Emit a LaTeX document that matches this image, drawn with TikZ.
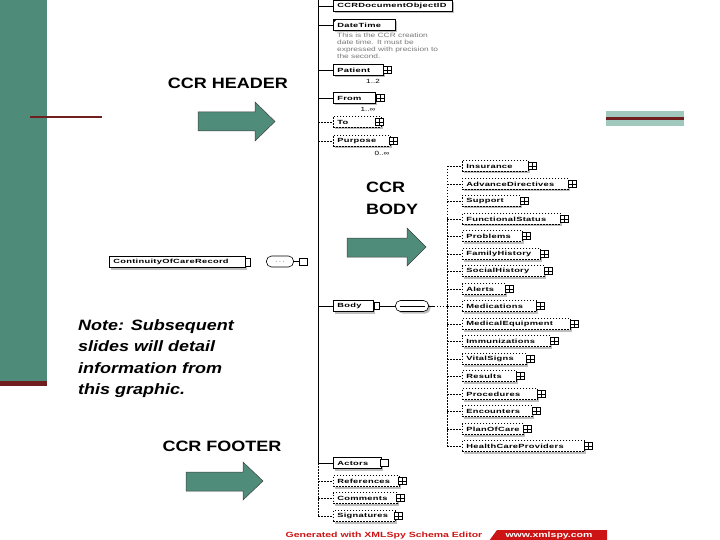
\documentclass[tikz,border=0pt]{standalone}
\usepackage{fontspec}
\setmainfont{Liberation Sans}
\newfontfamily\lblfont[FakeStretch=1.2]{Liberation Sans}
\newfontfamily\elfont[FakeStretch=1.55,LetterSpace=5]{Liberation Sans}
\newfontfamily\descfont[FakeStretch=1.35]{Liberation Sans}
\newfontfamily\banfont[FakeStretch=1.4]{Liberation Sans}
\definecolor{bargreen}{RGB}{78,139,121}
\definecolor{arrowgreen}{RGB}{80,140,122}
\definecolor{darkred}{RGB}{112,30,30}
\definecolor{lightteal}{RGB}{160,200,188}
\definecolor{shadowgray}{RGB}{190,190,190}
\definecolor{bannerred}{RGB}{204,20,20}
\definecolor{descgray}{RGB}{120,120,120}
\tikzset{
  elbox/.style={draw, line width=0.6pt, fill=white, inner sep=0pt, minimum height=11pt, anchor=west,
    font=\elfont\bfseries\fontsize{6}{7}\selectfont,
    preaction={fill=shadowgray, transform canvas={shift={(2pt,-2pt)}}}},
  optl/.style={dash pattern=on 1.5pt off 1.5pt},
  icon/.style={draw, fill=white, line width=0.5pt, minimum width=8pt, minimum height=7pt, inner sep=0pt,
    path picture={\draw[line width=0.5pt] (path picture bounding box.west) -- (path picture bounding box.east)
      (path picture bounding box.north) -- (path picture bounding box.south);}},
  iconplain/.style={draw, fill=white, line width=0.5pt, minimum width=8pt, minimum height=7pt, inner sep=0pt},
  occ/.style={font=\descfont\fontsize{6}{7}\selectfont, inner sep=0pt},
  biglbl/.style={font=\lblfont\bfseries\fontsize{15}{22}\selectfont, inner sep=0pt},
  blockarrow/.style={fill=arrowgreen, draw=black!75, line width=0.5pt},
  conn/.style={line width=0.6pt},
}
\newcommand\elem[5][]{%
  \node[elbox,#1,minimum width=#4pt] (#2) at (#3) {\makebox[#4pt][l]{\hspace{4pt}#5}};}
\begin{document}
\begin{tikzpicture}[x=1pt,y=-1pt]
\useasboundingbox (0,0) rectangle (720,540);
% slide decoration
\fill[bargreen] (0,0) rectangle (47,381);
\fill[darkred] (0,381) rectangle (47,386);
\draw[darkred, line width=2.8pt] (30,117) -- (102,117);
\fill[lightteal] (606,111) rectangle (684,126.5);
\draw[darkred, line width=3pt] (606,118.5) -- (684,118.5);

% labels and block arrows
\node[biglbl] (hdr) at (228,83) {CCR HEADER};
\fill[blockarrow] (198,112) -- (255,112) -- (255,102) -- (275,121.5) -- (255,141) -- (255,131) -- (198,131) -- cycle;
\node[biglbl, align=left, anchor=north west] (bodylbl) at (366,182) {CCR\\BODY};
\fill[blockarrow] (347,238) -- (407,238) -- (407,228) -- (426,247) -- (407,266) -- (407,257) -- (347,257) -- cycle;
\node[biglbl] (ftr) at (222,446) {CCR FOOTER};
\fill[blockarrow] (186,472) -- (243,472) -- (243,462) -- (263,481) -- (243,500) -- (243,491) -- (186,491) -- cycle;
\node[font=\lblfont\bfseries\itshape\fontsize{15}{21.6}\selectfont, inner sep=0pt, align=left, anchor=north west] (note) at (78,319)
  {Note: Subsequent\\slides will detail\\information from\\this graphic.};

% root element
\elem{root}{109,262}{136}{ContinuityOfCareRecord}
\node[draw, fill=white, line width=0.5pt, minimum width=5pt, minimum height=8pt, inner sep=0pt] (rooti) at ([xshift=2pt]root.east) {};
\node[draw, line width=0.6pt, rounded corners=5pt, minimum width=27pt, minimum height=11pt, inner sep=0pt, fill=white,
  font=\bfseries\fontsize{7}{7}\selectfont] (rootseq) at (280,261.5) {$\cdots$};
\node[iconplain] (rootsq) at (303.5,261.5) {};
\draw[conn] (rootseq.east) -- (rootsq.west);

% main vertical line
\coordinate (vtop) at (318,0);
\coordinate (vmid) at (318,463);
\coordinate (vbot) at (318,516);
\draw[conn] (vtop) -- (vmid);
\draw[conn, optl] (vmid) -- (vbot);

% header children
\elem{docid}{333,6}{119}{CCRDocumentObjectID}
\elem{DateTime}{333,25}{62}{DateTime}
\fill (DateTime.north west) -- ++(4,0) -- ++(-4,4) -- cycle;
\node[font=\descfont\fontsize{6.2}{7.2}\selectfont, text=descgray, align=left, inner sep=0pt, anchor=north west] (dtdesc) at (337,32.5)
  {This is the CCR creation\\date time. It must be\\expressed with precision to\\the second.};
\elem{Patient}{333,70}{50}{Patient}
\node[icon] (Patient-i) at ([xshift=4pt]Patient.east) {};
\node[occ] (Patient-o) at (373,81) {1..2};
\elem{From}{333,98}{42}{From}
\node[icon] (From-i) at ([xshift=5pt]From.east) {};
\node[occ] (From-o) at (368,109) {1..∞};
\elem[optl]{To}{333,122}{48}{To}
\node[icon] (To-i) at ([xshift=-2pt]To.east) {};
\elem[optl]{Purpose}{333,141}{57}{Purpose}
\node[icon] (Purpose-i) at ([xshift=3pt]Purpose.east) {};
\node[occ] (Purpose-o) at (382,153) {0..∞};
\foreach \n in {docid,DateTime,Patient,From}{\draw[conn] (\n.west -| vtop) -- (\n.west);}
\foreach \n in {To,Purpose}{\draw[conn,optl] (\n.west -| vtop) -- (\n.west);}

% body
\elem{Body}{333,306}{40}{Body}
\node[draw, fill=white, line width=0.5pt, minimum width=5pt, minimum height=7pt, inner sep=0pt] (Body-i) at ([xshift=3pt]Body.east) {};
\draw[conn] (Body.west -| vtop) -- (Body.west);
\node[draw, line width=0.6pt, rounded corners=5pt, minimum width=33pt, minimum height=11pt, inner sep=0pt, fill=white,
  preaction={fill=shadowgray, transform canvas={shift={(2pt,-2pt)}}},
  path picture={\draw[line width=0.6pt] ([xshift=4pt]path picture bounding box.west) -- ([xshift=-4pt]path picture bounding box.east);}] (bseq) at (412,306) {};
\draw[conn] (Body-i.east) -- (bseq.west);
\coordinate (rvt) at (447,166);
\coordinate (rvb) at (447,446);
\draw[conn] (bseq.east) -- ++(5,0) coordinate (bseqo);
\draw[conn,optl] (bseqo) -- (bseqo -| rvt);
\draw[conn,optl] (rvt) -- (rvb);

\foreach \n/\yy/\w in {Insurance/166/66, AdvanceDirectives/184/106, Support/201/58, FunctionalStatus/219/98,
  Problems/236/60, FamilyHistory/254/78, SocialHistory/271/82, Alerts/289/43, Medications/306/74,
  MedicalEquipment/324/108, Immunizations/341/88, VitalSigns/359/64, Results/376/54, Procedures/394/75,
  Encounters/411/70, PlanOfCare/429/61, HealthCareProviders/446/122}{
  \node[elbox, optl, minimum width=\w pt] (\n) at (462,\yy) {\makebox[\w pt][l]{\hspace{4pt}\n}};
  \node[icon] (\n-i) at ([xshift=4pt]\n.east) {};
  \draw[conn,optl] (\n.west -| rvt) -- (\n.west);
}

% footer children
\elem{Actors}{333,463}{48}{Actors}
\node[iconplain] (Actors-i) at ([xshift=3pt]Actors.east) {};
\draw[conn] (Actors.west -| vtop) -- (Actors.west);
\elem[optl]{References}{333,481}{66}{References}
\node[icon] (References-i) at ([xshift=3pt]References.east) {};
\elem[optl]{Comments}{333,498}{64}{Comments}
\node[icon] (Comments-i) at ([xshift=3pt]Comments.east) {};
\elem[optl]{Signatures}{333,516}{62}{Signatures}
\node[icon] (Signatures-i) at ([xshift=3pt]Signatures.east) {};
\foreach \n in {References,Comments,Signatures}{\draw[conn,optl] (\n.west -| vtop) -- (\n.west);}

% banner
\node[font=\banfont\bfseries\fontsize{7.5}{8}\selectfont, text=bannerred, inner sep=0pt] (gen) at (384,536) {Generated with XMLSpy Schema Editor};
\fill[bannerred] (497,530) -- (607,530) -- (607,541) -- (489,541) -- cycle;
\node[font=\banfont\bfseries\fontsize{7.5}{8}\selectfont, text=white, inner sep=0pt] (www) at (549,536) {www.xmlspy.com};
\end{tikzpicture}
\end{document}
